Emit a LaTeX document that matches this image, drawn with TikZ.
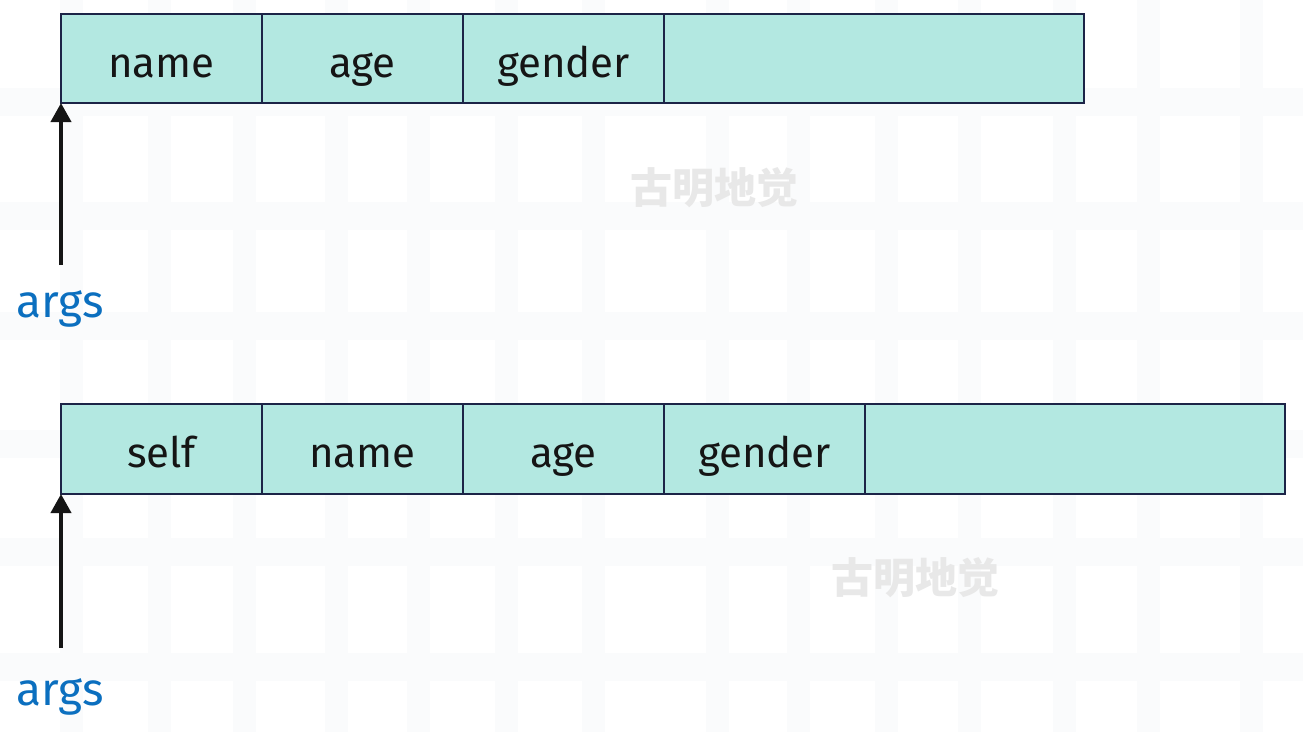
\documentclass[tikz,border=0pt]{standalone}
\usepackage{fontspec}
\setmainfont{Fira Sans}
\newfontfamily\cjk{Noto Sans CJK SC}
\usetikzlibrary{arrows.meta}
\definecolor{cellfill}{HTML}{B3E8E1}
\definecolor{celldraw}{HTML}{1C2447}
\definecolor{argblue}{HTML}{0B6FBF}
\definecolor{wmgray}{HTML}{E8E8E8}
\definecolor{bandgray}{HTML}{FAFBFC}
\definecolor{inkblack}{HTML}{151515}
\begin{document}
\begin{tikzpicture}[x=1pt,y=-1pt,
  cell/.style={draw=celldraw, fill=cellfill, line width=1.4pt, inner sep=0pt, outer sep=0pt,
    minimum height=89pt, minimum width=201pt, anchor=north west,
    font=\fontsize{42}{48}\selectfont, text=inkblack, text height=37pt, text depth=0pt},
  wide/.style={cell, minimum width=420pt},
  argslabel/.style={anchor=base, text=argblue, font=\fontsize{46}{52}\selectfont, inner sep=0pt},
  pointer/.style={draw=inkblack, line width=4pt, -{Triangle[width=20pt,length=19pt]}},
  watermark/.style={text=wmgray, font=\cjk\bfseries\fontsize{42}{48}\selectfont, inner sep=0pt}
]
\useasboundingbox (0,0) rectangle (1303,732);
\fill[white] (0,0) rectangle (1303,732);
% faint background bands
\foreach \bx in {60,148,233,325,407,495,582,706,787,875,958,1053,1137,1240}
  \fill[bandgray] (\bx,0) rectangle ++(23,732);
\foreach \by in {88,202,312,430,538,653}
  \fill[bandgray] (0,\by) rectangle ++(1303,28);

% watermarks
\node[watermark] (w1) at (714,188) {古明地觉};
\node[watermark] (w2) at (915,578) {古明地觉};

% top row
\node[cell] (t1) at (61,14) {name};
\node[cell] (t2) at (t1.north east) {age};
\node[cell] (t3) at (t2.north east) {gender};
\node[wide] (t4) at (t3.north east) {};

% bottom row
\node[cell, minimum height=90pt] (b1) at (61,404) {self};
\node[cell, minimum height=90pt] (b2) at (b1.north east) {name};
\node[cell, minimum height=90pt] (b3) at (b2.north east) {age};
\node[cell, minimum height=90pt] (b4) at (b3.north east) {gender};
\node[wide, minimum height=90pt] (b5) at (b4.north east) {};

% labels and pointers
\node[argslabel] (a1) at (60,317) {args};
\node[argslabel] (a2) at (60,705) {args};
\coordinate (s1) at (61,265);
\coordinate (s2) at (61,648);
\draw[pointer] (s1) -- (t1.south west);
\draw[pointer] (s2) -- (b1.south west);
\end{tikzpicture}
\end{document}
